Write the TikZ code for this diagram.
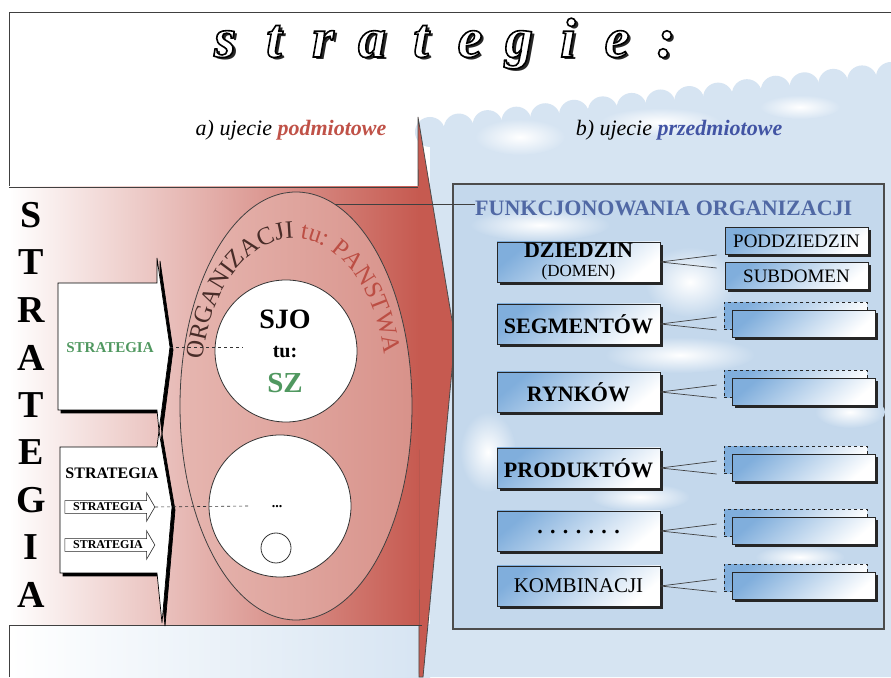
\documentclass[tikz,border=0pt]{standalone}
\usepackage{fontspec}
\setmainfont{Liberation Serif}
\usetikzlibrary{positioning, calc, arrows.meta, shapes.geometric, shapes.arrows, shadows, decorations.text}

\definecolor{arrowred}{RGB}{198,90,80}
\definecolor{bandpink}{RGB}{236,200,194}
\definecolor{ellleft}{RGB}{230,182,176}
\definecolor{ellright}{RGB}{216,146,138}
\definecolor{orgdark}{RGB}{72,44,40}
\definecolor{orgred}{RGB}{188,78,68}
\definecolor{stratgreen}{RGB}{80,152,96}
\definecolor{funkblue}{RGB}{80,104,164}
\definecolor{podred}{RGB}{192,82,72}
\definecolor{przblue}{RGB}{66,84,164}
\definecolor{sky}{RGB}{196,216,236}
\definecolor{skylight}{RGB}{214,228,242}
\definecolor{boxblue}{RGB}{128,174,220}

\newcommand{\fsz}[1]{\fontsize{#1}{#1}\selectfont}
\newcommand{\outlined}[1]{\special{pdf:literal direct 2 Tr 1.6 w 0 G 1 g}#1\special{pdf:literal direct 0 Tr 0 g 1 w}}
\newcommand{\titlechar}[1]{\makebox[49pt]{\rlap{\kern3pt\raisebox{-3pt}{\color{black!85}#1}}\outlined{#1}}}

\tikzset{
	leftbox/.style={rectangle, draw=black!85, line width=0.8pt, minimum width=163pt, minimum height=40pt, inner sep=0pt, align=center, top color=boxblue, bottom color=white, shading angle=40, drop shadow={shadow xshift=3pt, shadow yshift=-3pt, fill=black!85, opacity=1}, font=\fsz{22}\bfseries},
	rightbox/.style={rectangle, draw=black!85, line width=0.8pt, minimum width=143pt, minimum height=27pt, inner sep=0pt, top color=boxblue, bottom color=white, shading angle=40, drop shadow={shadow xshift=2.5pt, shadow yshift=-2.5pt, fill=black!85, opacity=1}, font=\fsz{19}},
	ghostbox/.style={rectangle, draw=black!85, dashed, line width=0.8pt, minimum width=143pt, minimum height=27pt, top color=boxblue, bottom color=white, shading angle=40},
	fanline/.style={black!75, line width=0.7pt},
	bigletter/.style={font=\fsz{38}\bfseries},
	titletext/.style={font=\fsz{56}\bfseries\itshape, anchor=base, inner sep=0pt},
	subtitle/.style={font=\fsz{22}\itshape},
	smallarrow/.style={single arrow, draw=black!85, fill=white, line width=0.6pt, minimum height=90pt, inner sep=2pt, single arrow head extend=8pt, single arrow tip angle=120, font=\fsz{12}\bfseries},
	bigcircle/.style={circle, draw=black!80, line width=0.8pt, fill=white, inner sep=0pt},
}

\begin{document}
\begin{tikzpicture}[x=1pt, y=1pt]
	\useasboundingbox (0,0) rectangle (891,677);
	\fill[white] (0,0) rectangle (891,677);

	% clouds behind
	\fill[skylight] (430,0) -- (430,545) -- (891,600) -- (891,0) -- cycle;
	\foreach \k in {0,...,16} {
		\fill[skylight] ($(430,545)!\k/16!(891,600)$) circle (15pt);
	}
	\foreach \cx/\cy/\rx/\ry in {520/540/45/18, 660/555/60/14, 800/570/40/12} {
		\shade[inner color=white, outer color=skylight] (\cx,\cy) ellipse ({\rx pt} and {\ry pt});
	}
	\shade[left color=white, right color=skylight] (9,0) rectangle (430,52);

	% frame
	\draw[black!75, line width=0.9pt] (9,0) -- (9,665) -- (891,665);

	% title
	\node[titletext] (title) at (445.5,620) {\titlechar{s}\titlechar{t}\titlechar{r}\titlechar{a}\titlechar{t}\titlechar{e}\titlechar{g}\titlechar{i}\titlechar{e}\titlechar{:}};

	\node[subtitle] (subA) at (291,547) {a) ujecie \textcolor{podred}{\bfseries podmiotowe}};
	\node[subtitle] (subB) at (679,547) {b) ujecie \textcolor{przblue}{\bfseries przedmiotowe}};

	% red arrow and band
	\filldraw[fill=arrowred, draw=black!70, line width=0.8pt] (418,560) -- (455,339) -- (423,0) -- (419,0) -- cycle;
	\shade[left color=white, middle color=bandpink, right color=arrowred] (9,52) rectangle (419,490);
	\draw[black!75, line width=0.8pt] (9,490) -- (418,490) (9,52) -- (422,52);

	% right panel
	\draw[black!70, line width=1.6pt, fill=sky] (453,48) rectangle (884,493);
	\foreach \cx/\cy/\rx/\ry in {540/452/70/16, 690/395/45/35, 680/322/75/18, 488/225/28/40, 850/265/35/16, 640/180/50/14, 800/120/45/12} {
		\shade[inner color=white, outer color=sky] (\cx,\cy) ellipse ({\rx pt} and {\ry pt});
	}

	% organisation
	\node[ellipse, draw=black!75, line width=0.8pt, minimum width=232pt, minimum height=428pt, inner sep=0pt, left color=ellleft, right color=ellright] (org) at (296,271) {};
	\path[decorate, decoration={text along path, text align=center, text={|\fsz{25}\color{orgdark}|ORGANIZACJI |\fsz{25}\color{orgred}|tu: PANSTWA}}] (202.8,317.9) arc[start angle=171, end angle=11, x radius=92pt, y radius=143pt];

	\node[bigcircle, minimum size=142pt] (sjo) at (286,326) {};
	\node[font=\fsz{28}\bfseries] (sjoT) at (285,358) {SJO};
	\node[font=\fsz{20}\bfseries] (tuT) at (285,325) {tu:};
	\node[font=\fsz{29}\bfseries, text=stratgreen] (szT) at (285,294) {SZ};
	\node[bigcircle, minimum size=142pt] (low) at (280,171) {};
	\node[font=\fsz{14}\bfseries] (dotsT) at (277,170) {...};
	\node[bigcircle, minimum size=30pt] (small) at (276,129) {};

	% strategy arrows on the left
	\foreach \s/\c in {3/black, 0/white} {
		\filldraw[fill=\c, draw=black, line width=0.7pt, shift={(\s,-\s)}] (58,394) -- (157,394) -- (157,419) -- (170,330) -- (159,246) -- (157,267) -- (58,267) -- cycle;
		\filldraw[fill=\c, draw=black, line width=0.7pt, shift={(\s,-\s)}] (60,230) -- (157,230) -- (159,246) -- (172,170) -- (162,54) -- (157,104) -- (60,104) -- cycle;
	}
	\node[font=\fsz{15}\bfseries, text=stratgreen] (stratA) at (110,329) {STRATEGIA};
	\node[font=\fsz{16}\bfseries] (stratB) at (112,204) {STRATEGIA};
	\node[smallarrow] (sa1) at (108,170) {STRATEGIA};
	\node[smallarrow] (sa2) at (108,132) {STRATEGIA};

	\coordinate (tipA) at (170,330);
	\coordinate (endA) at (243,330);
	\coordinate (endB) at (250,171);
	\draw[dashed, black!80, line width=0.6pt] (tipA) -- (endA);
	\draw[dashed, black!80, line width=0.6pt] (sa1.tip) -- (endB);

	\foreach \l [count=\i] in {S,T,R,A,T,E,G,I,A}
		\node[bigletter] (big\i) at (31, 509.5-\i*47.5) {\l};

	% subject areas
	\node[font=\fsz{22}\bfseries, text=funkblue, anchor=west, inner sep=0pt] (funk) at (475,469) {FUNKCJONOWANIA ORGANIZACJI};
	\draw[black!75, line width=0.7pt] (org.79) -- (org.79 -| funk.west);

	\node[leftbox] (dzi) at (578.5,415) {DZIEDZIN\\[-3pt]{\fsz{17}\mdseries (DOMEN)}};
	\node[leftbox] (seg) at (578.5,353) {SEGMENTÓW};
	\node[leftbox] (ryn) at (578.5,285) {RYNKÓW};
	\node[leftbox] (prod) at (578.5,209) {PRODUKTÓW};
	\node[leftbox] (etc) at (578.5,146) {\raisebox{-6pt}{. . . . . . .}};
	\node[leftbox, font=\fsz{21}] (komb) at (578.5,91) {KOMBINACJI};

	\node[rightbox] (podd) at (796.5,436) {PODDZIEDZIN};
	\node[rightbox] (subd) at (796.5,401) {SUBDOMEN};
	\draw[fanline] (dzi.east) -- ($(podd.west)+(-8,-14)$);
	\draw[fanline] (dzi.east) -- ($(subd.west)+(-8,8)$);

	\foreach \n in {seg, ryn, prod, etc, komb} {
		\node[ghostbox] (g\n) at ($(\n.center)+(217,8)$) {};
		\node[rightbox] (r\n) at ($(\n.center)+(225,0)$) {};
		\draw[fanline] (\n.east) -- ($(g\n.west)+(-7,-1)$);
		\draw[fanline] (\n.east) -- ($(r\n.west)+(-15,-6)$);
	}
\end{tikzpicture}
\end{document}
